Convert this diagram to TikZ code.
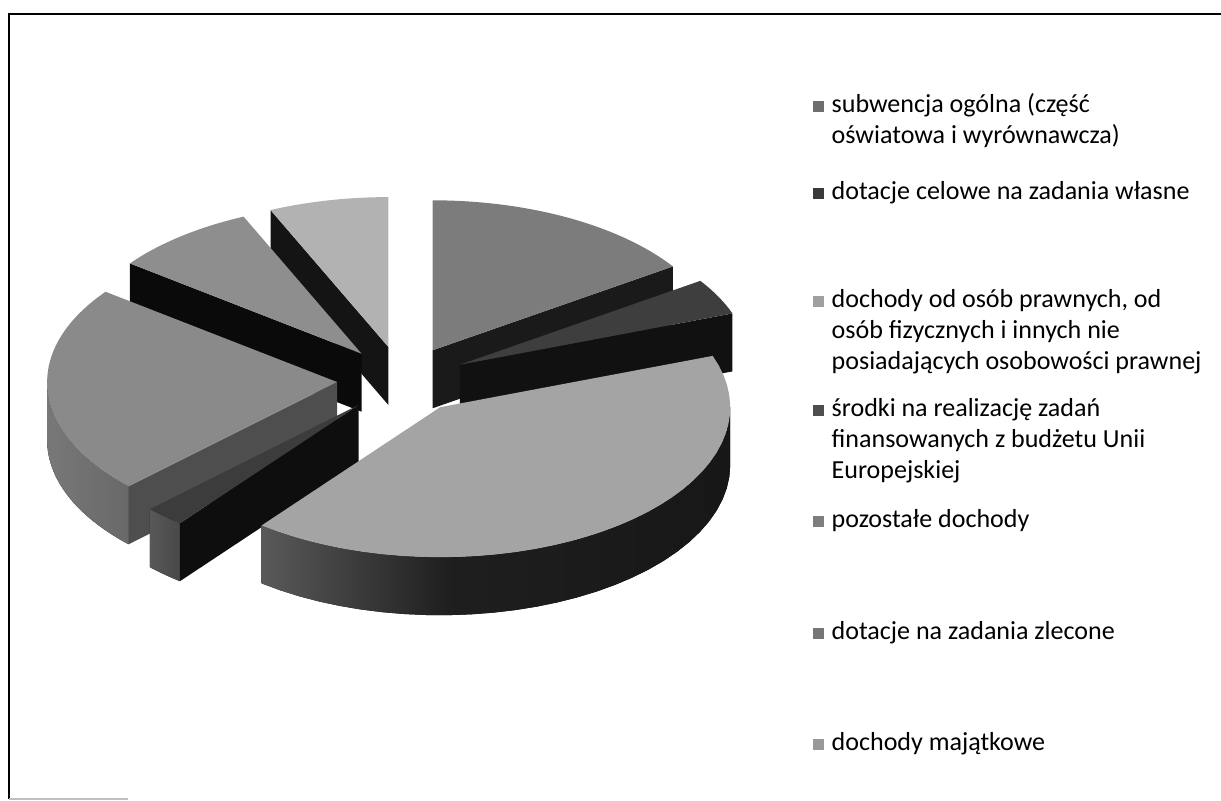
\documentclass[tikz,border=0pt]{standalone}
\usepackage{fontspec}
\setmainfont{Carlito}
\usetikzlibrary{positioning}

\definecolor{t1}{HTML}{7C7C7C}\definecolor{s1}{HTML}{1A1A1A}
\definecolor{t2}{HTML}{3E3E3E}\definecolor{s2}{HTML}{111111}
\definecolor{t3}{HTML}{A4A4A4}\definecolor{s3}{HTML}{303030}
\definecolor{t4}{HTML}{3C3C3C}\definecolor{s4}{HTML}{0E0E0E}
\definecolor{t5}{HTML}{8A8A8A}\definecolor{s5}{HTML}{4E4E4E}
\definecolor{t6}{HTML}{8E8E8E}\definecolor{s6}{HTML}{0A0A0A}
\definecolor{t7}{HTML}{B2B2B2}\definecolor{s7}{HTML}{141414}
\definecolor{k1}{HTML}{6E6E6E}\definecolor{k2}{HTML}{3A3A3A}
\definecolor{k3}{HTML}{A0A0A0}\definecolor{k4}{HTML}{4E4E4E}
\definecolor{k5}{HTML}{7E7E7E}\definecolor{k6}{HTML}{767676}
\definecolor{k7}{HTML}{999999}

% side shadings of the front slices
\pgfdeclarehorizontalshading{out3}{100bp}{color(0bp)=(black!55); color(25bp)=(black!65); color(45bp)=(black!88); color(85bp)=(black!92); color(100bp)=(black!70)}
\pgfdeclarehorizontalshading{out4}{100bp}{color(0bp)=(black!62); color(100bp)=(black!75)}
\pgfdeclarehorizontalshading{out5}{100bp}{color(0bp)=(black!50); color(100bp)=(black!62)}

\newcommand\legbox[1]{\parbox[t]{4.5cm}{\raggedright #1}}

\begin{document}
\begin{tikzpicture}[x=0.01cm ,y=-0.01cm ,
legend/.style ={anchor=base west ,inner sep=0pt ,font=\fontsize{7.4}{8.8}\selectfont},
key/.style ={inner sep=0pt ,minimum size=0.11cm}]
\useasboundingbox (0,0) rectangle (1221,801);
\draw[line width=0.7pt] (1221,14) -- (9,14) -- (9,799);
\draw[gray!50] (9,799) -- (128,799);

% exploded 3d pie, back slices first
\def\ox{402}\def\oy{380}\def\rx{290}\def\ry{150}\def\dd{65}\def\hh{58}
\foreach \i/\a/\b in {7/114/90, 1/90/34, 6/143/114, 2/34/20, 5/-136/-217, 4/-128/-136, 3/20/-128}{
  \pgfmathsetmacro\m{(\a+\b)/2}
  \pgfmathsetmacro\cx{\ox+\dd*cos(\m)}
  \pgfmathsetmacro\cy{\oy-\dd*\ry/\rx*sin(\m)}
  \pgfmathsetmacro\lo{max(\b,-180)}
  \pgfmathsetmacro\hi{min(\a,0)}
  \pgfmathtruncatemacro\showo{\hi>\lo}
  \pgfmathtruncatemacro\showa{cos(\a)<0}
  \pgfmathtruncatemacro\showb{cos(\b)>0}
  \ifnum\showo=1
    \fill[shading=out\i] plot[domain=\lo:\hi ,samples=30] ({\cx+\rx*cos(\x)},{\cy-\ry*sin(\x)})
      -- plot[domain=\hi:\lo ,samples=30] ({\cx+\rx*cos(\x)},{\cy-\ry*sin(\x)+\hh}) -- cycle;
  \fi
  \ifnum\showa=1
    \fill[s\i] (\cx,\cy) -- ({\cx+\rx*cos(\a)},{\cy-\ry*sin(\a)}) -- ++(0,\hh) -- (\cx,{\cy+\hh}) -- cycle;
  \fi
  \ifnum\showb=1
    \fill[s\i] (\cx,\cy) -- ({\cx+\rx*cos(\b)},{\cy-\ry*sin(\b)}) -- ++(0,\hh) -- (\cx,{\cy+\hh}) -- cycle;
  \fi
  \fill[t\i] (\cx,\cy) -- plot[domain=\b:\a ,samples=40] ({\cx+\rx*cos(\x)},{\cy-\ry*sin(\x)}) -- cycle;
}

% legend
\node[legend] (l1) at (831,113) {\legbox{subwencja ogólna (część\\oświatowa i wyrównawcza)}};
\node[legend] (l2) at (831,200) {\legbox{dotacje celowe na zadania własne}};
\node[legend] (l3) at (831,308) {\legbox{dochody od osób prawnych, od\\osób fizycznych i innych nie\\posiadających osobowości prawnej}};
\node[legend] (l4) at (831,417) {\legbox{środki na realizację zadań\\finansowanych z budżetu Unii\\Europejskiej}};
\node[legend] (l5) at (831,528) {\legbox{pozostałe dochody}};
\node[legend] (l6) at (831,640) {\legbox{dotacje na zadania zlecone}};
\node[legend] (l7) at (831,751) {\legbox{dochody majątkowe}};
\foreach \j/\yy in {1/107, 2/194, 3/302, 4/411, 5/522, 6/634, 7/745}
  \node[key ,fill=k\j] (k\j) at (818,\yy) {};
\end{tikzpicture}
\end{document}
